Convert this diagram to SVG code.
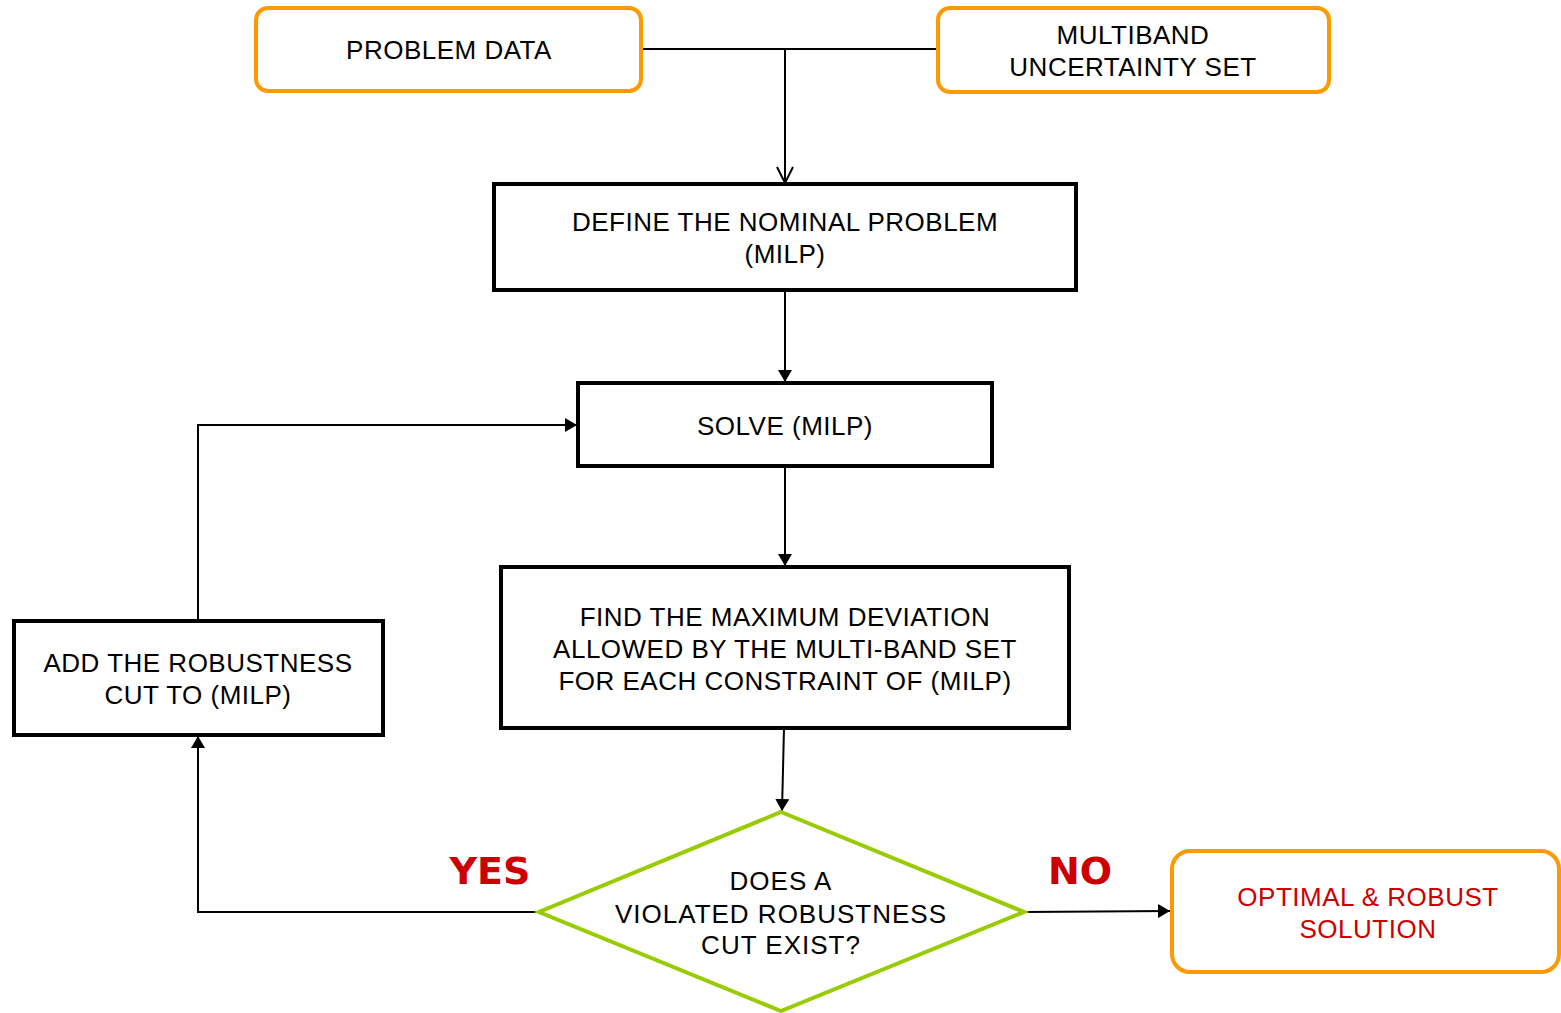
<svg xmlns="http://www.w3.org/2000/svg" width="1561" height="1013" viewBox="0 0 1561 1013">
<defs>
<style>
.t{font-family:"Liberation Sans",Arial,sans-serif;font-size:26px;letter-spacing:0.5px;fill:#000;text-anchor:middle}
.d{letter-spacing:1px}
.r{fill:#CC0000}
.lbl{font-family:"DejaVu Sans",Verdana,sans-serif;font-weight:bold;font-size:38px;fill:#CC0000;text-anchor:middle}
.term{fill:#fff;stroke:#FF9900;stroke-width:4}
.proc{fill:#fff;stroke:#000;stroke-width:4}
.dec{fill:#fff;stroke:#99CC00;stroke-width:4}
.c{fill:none;stroke:#000;stroke-width:2}
</style>
<marker id="ah" viewBox="0 0 10 10" refX="10" refY="5" markerWidth="12" markerHeight="14" markerUnits="userSpaceOnUse" orient="auto" preserveAspectRatio="none">
<path d="M0,0 L10,5 L0,10 z" fill="#000"/>
</marker>
<marker id="ao" viewBox="0 0 18 20" refX="17" refY="10" markerWidth="18" markerHeight="20" markerUnits="userSpaceOnUse" orient="auto">
<path d="M1,2 L17,10 L1,18" fill="none" stroke="#000" stroke-width="2"/>
</marker>
</defs>
<rect width="1561" height="1013" fill="#fff"/>
<g id="connectors">
<path class="c" d="M641,49 H938"/>
<path class="c" d="M785,49 V183" marker-end="url(#ao)"/>
<path class="c" d="M785,290 V382" marker-end="url(#ah)"/>
<path class="c" d="M785,466 V566" marker-end="url(#ah)"/>
<path class="c" d="M784,728 L782,811" marker-end="url(#ah)"/>
<path class="c" d="M1024,912 L1170,911" marker-end="url(#ah)"/>
<path class="c" d="M539,912 H198 V736" marker-end="url(#ah)"/>
<path class="c" d="M198,621 V425 H577" marker-end="url(#ah)"/>
</g>
<g id="problem-data">
<rect class="term" x="256" y="8" width="385" height="83" rx="12"/>
<text class="t" x="449" y="59">PROBLEM DATA</text>
</g>
<g id="multiband">
<rect class="term" x="938" y="8" width="391" height="84" rx="12"/>
<text class="t" x="1133" y="44">MULTIBAND</text>
<text class="t" x="1133" y="76">UNCERTAINTY SET</text>
</g>
<g id="define">
<rect class="proc" x="494" y="184" width="582" height="106"/>
<text class="t" x="785" y="231">DEFINE THE NOMINAL PROBLEM</text>
<text class="t" x="785" y="263">(MILP)</text>
</g>
<g id="solve">
<rect class="proc" x="578" y="383" width="414" height="83"/>
<text class="t" x="785" y="435">SOLVE (MILP)</text>
</g>
<g id="find">
<rect class="proc" x="501" y="567" width="568" height="161"/>
<text class="t" x="785" y="626">FIND THE MAXIMUM DEVIATION</text>
<text class="t" x="785" y="658">ALLOWED BY THE MULTI-BAND SET</text>
<text class="t" x="785" y="690">FOR EACH CONSTRAINT OF (MILP)</text>
</g>
<g id="decision">
<polygon class="dec" points="781,812 1024,912 781,1011 539,912"/>
<text class="t d" x="781" y="890">DOES A</text>
<text class="t d" x="781" y="923">VIOLATED ROBUSTNESS</text>
<text class="t d" x="781" y="954">CUT EXIST?</text>
</g>
<g id="add-cut">
<rect class="proc" x="14" y="621" width="369" height="114"/>
<text class="t" x="198" y="672">ADD THE ROBUSTNESS</text>
<text class="t" x="198" y="704">CUT TO (MILP)</text>
</g>
<g id="optimal">
<rect class="term" x="1172" y="851" width="387" height="121" rx="18"/>
<text class="t r" x="1368" y="906">OPTIMAL &amp; ROBUST</text>
<text class="t r" x="1368" y="938">SOLUTION</text>
</g>
<text class="lbl" x="490" y="884">YES</text>
<text class="lbl" x="1080" y="884">NO</text>
</svg>
